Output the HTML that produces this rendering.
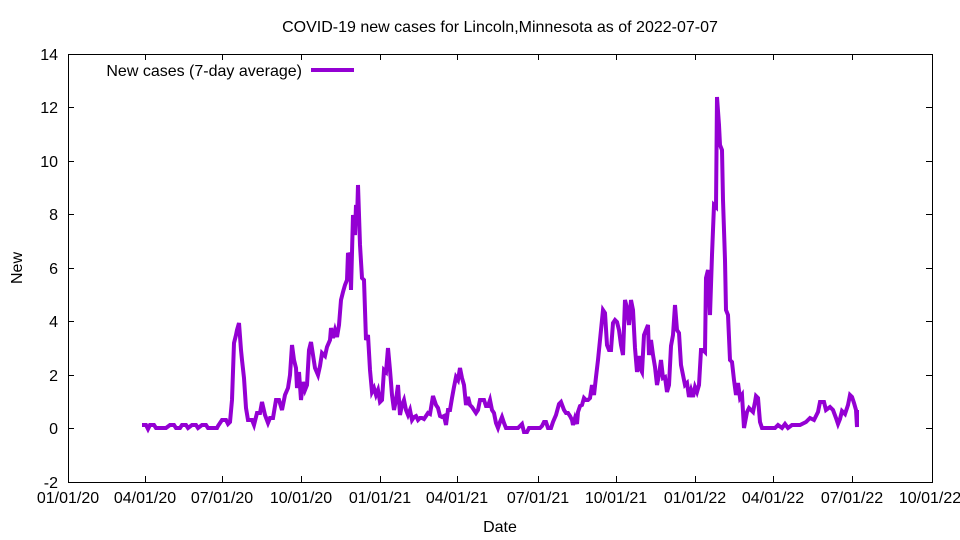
<!DOCTYPE html>
<html><head><meta charset="utf-8"><style>
body{margin:0;background:#fff}
svg{display:block;font-family:"Liberation Sans",sans-serif;font-size:16px}
</style></head><body>
<svg width="960" height="540" xmlns="http://www.w3.org/2000/svg">
<rect width="960" height="540" fill="#fff"/>
<text x="500" y="32" text-anchor="middle">COVID-19 new cases for Lincoln,Minnesota as of 2022-07-07</text>
<g stroke="#000" stroke-width="1" fill="none">
<rect x="68.5" y="54.5" width="864" height="428"/>
<path d="M68 482.5h6M68 428.5h6M68 375.5h6M68 321.5h6M68 268.5h6M68 214.5h6M68 161.5h6M68 107.5h6M68 54.5h6
M932 482.5h-6M932 428.5h-6M932 375.5h-6M932 321.5h-6M932 268.5h-6M932 214.5h-6M932 161.5h-6M932 107.5h-6
M145.5 482v-6M222.5 482v-6M301.5 482v-6M380.5 482v-6M457.5 482v-6M538.5 482v-6M616.5 482v-6M695.5 482v-6M773.5 482v-6M852.5 482v-6
M145.5 54v6M222.5 54v6M301.5 54v6M380.5 54v6M457.5 54v6M538.5 54v6M616.5 54v6M695.5 54v6M773.5 54v6M852.5 54v6"/>
</g>
<g text-anchor="end">
<text x="58" y="488">-2</text><text x="58" y="434">0</text><text x="58" y="381">2</text><text x="58" y="327">4</text>
<text x="58" y="274">6</text><text x="58" y="220">8</text><text x="58" y="167">10</text><text x="58" y="113">12</text><text x="58" y="60">14</text>
</g>
<g text-anchor="middle">
<text x="68" y="503">01/01/20</text><text x="145" y="503">04/01/20</text><text x="222" y="503">07/01/20</text>
<text x="301" y="503">10/01/20</text><text x="380" y="503">01/01/21</text><text x="457" y="503">04/01/21</text>
<text x="538" y="503">07/01/21</text><text x="616" y="503">10/01/21</text><text x="695" y="503">01/01/22</text>
<text x="773" y="503">04/01/22</text><text x="852" y="503">07/01/22</text><text x="930" y="503">10/01/22</text>
<text x="500" y="532">Date</text>
</g>
<text transform="translate(22,268) rotate(-90)" text-anchor="middle">New</text>
<text x="302" y="76" text-anchor="end">New cases (7-day average)</text>
<line x1="311" y1="70" x2="354" y2="70" stroke="#9400d3" stroke-width="4"/>
<polyline fill="none" stroke="#9400d3" stroke-width="4" stroke-linejoin="miter" points="
142,425 146,425 148,429 150,425 154,425 156,428 160,428 166,428 170,425 174,425 176,428 180,428 182,425 186,425 188,428 192,425 196,425 198,428 202,425 206,425 208,428 214,428 217,428 218,426 222,420 226,420 228,424 230,422 232,400 234,343 236,335 237,330 239,323 241,350 242,360 244,378 246,408 248,420 252,420 254,425 257,413 260,413 262,402 265,415 268,423 270,418 273,418 276,400 279,400 282,410 285,395 288,388 290,375 292,345 294,360 296,368 297,388 299,372 301,400 303,382 305,390 307,385 309,350 311,342 313,355 315,368 318,375 320,366 322,353 325,356 327,347 330,340 331,328 333,338 335,330 337,337 339,325 341,300 343,292 345,285 347,280 348,253 350,257 351,290 353,215 355,235 356,205 357,220 358,185 360,245 362,278 364,280 366,340 368,335 370,370 372,392 374,388 376,395 378,390 380,402 382,400 384,370 386,372 388,348 390,370 392,395 394,410 396,400 398,385 399,400 400,415 402,405 404,400 406,410 408,415 410,410 412,420 414,417 416,416 418,420 420,418 422,418 424,419 426,416 428,413 430,414 433,396 436,405 438,408 440,416 442,417 444,416 446,425 448,410 450,410 452,398 454,387 456,377 458,380 460,368 462,378 464,385 466,405 468,397 470,405 472,407 474,410 476,413 478,410 480,400 482,400 484,400 486,406 488,406 490,400 492,410 494,413 496,423 498,428 500,422 502,417 504,423 506,428 510,428 514,428 518,428 520,426 522,424 524,432 527,432 529,428 534,428 540,428 542,426 544,422 546,422 548,428 551,428 553,422 556,415 559,404 561,402 564,410 566,413 568,413 570,416 572,420 573,425 575,418 577,424 578,412 580,406 582,405 584,398 586,400 588,400 590,398 592,385 594,395 596,377 598,360 601,330 603,310 605,313 607,345 609,350 611,350 613,323 615,320 617,322 619,330 621,345 623,355 625,300 627,308 629,325 631,300 633,310 635,348 637,372 639,356 641,370 642,372 644,335 646,330 648,325 649,355 651,340 653,355 655,367 657,385 659,375 661,360 663,378 665,377 667,392 669,385 671,346 673,335 675,305 677,330 679,333 681,365 683,375 685,385 687,383 689,397 691,390 693,397 695,387 697,392 699,385 701,350 703,350 705,352 706,278 708,270 710,315 712,255 714,205 716,207 717,97 719,125 720,145 722,150 723,200 725,260 726,310 728,315 730,360 732,362 734,380 736,395 738,383 740,398 742,395 744,428 747,412 749,408 751,410 753,412 755,402 756,396 758,398 760,422 762,428 768,428 775,428 778,425 782,428 785,424 788,428 792,425 800,425 806,422 810,418 814,420 818,412 820,402 824,402 826,410 830,407 833,410 836,418 838,424 840,419 842,411 845,414 848,405 850,395 852,397 854,403 856,410 857,427 857,410"/>
</svg>
</body></html>
